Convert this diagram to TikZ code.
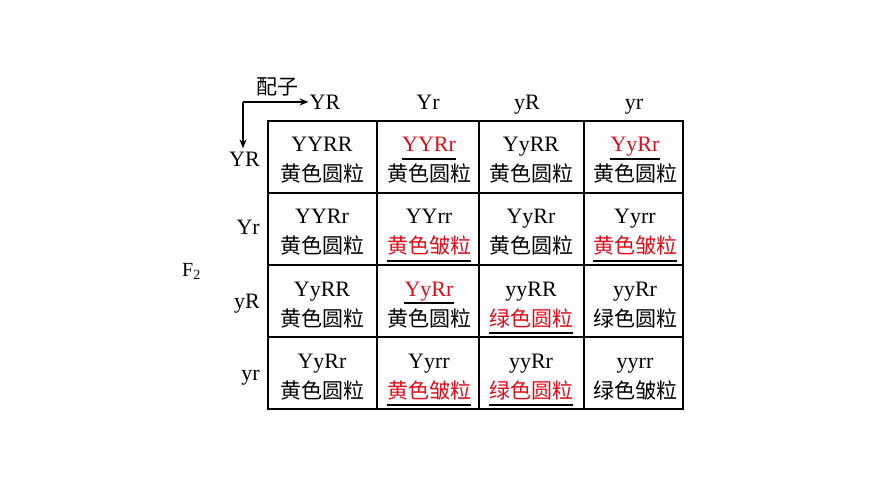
\documentclass[tikz,border=0pt]{standalone}
\usepackage{fontspec}
\setmainfont{Liberation Serif}
\newfontfamily\cjk{Noto Sans CJK SC}
\usetikzlibrary{arrows.meta}
\definecolor{redt}{RGB}{225,10,25}
\tikzset{
  gridl/.style={line width=2pt},
  geno/.style={anchor=base, inner sep=0pt, font=\fontsize{22}{24}\selectfont},
  pheno/.style={anchor=base, inner sep=0pt, font=\cjk\fontsize{21}{24}\selectfont},
  lab/.style={inner sep=0pt, font=\fontsize{22}{24}\selectfont},
  hl/.style={text=redt},
  ul/.style={line width=1.4pt},
  arr/.style={line width=1.4pt, -{Stealth[length=9pt,width=7pt]}}
}
\begin{document}
\begin{tikzpicture}[x=1pt,y=-1pt]
\useasboundingbox (0,0) rectangle (870,489);
% grid
\draw[gridl] (268,121) rectangle (683,409);
\foreach \x in {377,479,584} \draw[gridl] (\x,121) -- (\x,409);
\foreach \y in {193,265,337} \draw[gridl] (268,\y) -- (683,\y);
% headers
\node[lab, anchor=base] (hYR) at (325,110) {YR};
\node[lab, anchor=base] (hYr) at (428,110) {Yr};
\node[lab, anchor=base] (hyR) at (527,110) {yR};
\node[lab, anchor=base] (hyr) at (634,110) {yr};
\node[lab, anchor=base east] (rYR) at (260,167) {YR};
\node[lab, anchor=base east] (rYr) at (260,235) {Yr};
\node[lab, anchor=base east] (ryR) at (260,308) {yR};
\node[lab, anchor=base east] (ryr) at (260,380) {yr};
\node[inner sep=0pt, font=\cjk\fontsize{21}{24}\selectfont] (gam) at (277,87) {配子};
\node[inner sep=0pt, anchor=base west, font=\fontsize{20}{22}\selectfont] (f2) at (182,276) {F\textsubscript{2}};
\coordinate (corner) at (243,102);
\draw[arr] (corner) -- ([xshift=-1pt]corner -| hYR.west);
\draw[arr] (corner) -- ([yshift=4pt]corner |- rYR.north);
% row 1
\node[geno] (g11) at (322,152) {YYRR};
\node[pheno] (p11) at (322,182) {黄色圆粒};
\node[geno,hl] (g12) at (429,152) {YYRr};
\node[pheno] (p12) at (429,182) {黄色圆粒};
\node[geno] (g13) at (531,152) {YyRR};
\node[pheno] (p13) at (531,182) {黄色圆粒};
\node[geno,hl] (g14) at (635,152) {YyRr};
\node[pheno] (p14) at (635,182) {黄色圆粒};
% row 2
\node[geno] (g21) at (322,224) {YYRr};
\node[pheno] (p21) at (322,254) {黄色圆粒};
\node[geno] (g22) at (429,224) {YYrr};
\node[pheno,hl] (p22) at (429,254) {黄色皱粒};
\node[geno] (g23) at (531,224) {YyRr};
\node[pheno] (p23) at (531,254) {黄色圆粒};
\node[geno] (g24) at (635,224) {Yyrr};
\node[pheno,hl] (p24) at (635,254) {黄色皱粒};
% row 3
\node[geno] (g31) at (322,296) {YyRR};
\node[pheno] (p31) at (322,326) {黄色圆粒};
\node[geno,hl] (g32) at (429,296) {YyRr};
\node[pheno] (p32) at (429,326) {黄色圆粒};
\node[geno] (g33) at (531,296) {yyRR};
\node[pheno,hl] (p33) at (531,326) {绿色圆粒};
\node[geno] (g34) at (635,296) {yyRr};
\node[pheno] (p34) at (635,326) {绿色圆粒};
% row 4
\node[geno] (g41) at (322,368) {YyRr};
\node[pheno] (p41) at (322,398) {黄色圆粒};
\node[geno] (g42) at (429,368) {Yyrr};
\node[pheno,hl] (p42) at (429,398) {黄色皱粒};
\node[geno] (g43) at (531,368) {yyRr};
\node[pheno,hl] (p43) at (531,398) {绿色圆粒};
\node[geno] (g44) at (635,368) {yyrr};
\node[pheno] (p44) at (635,398) {绿色皱粒};
% underlines
\foreach \n in {g12,g14,g32}
  \draw[ul] ([yshift=-7pt]\n.base west) -- ([yshift=-7pt]\n.base east);
\foreach \n in {p22,p24,p33,p42,p43}
  \draw[ul] ([yshift=-7pt]\n.base west) -- ([yshift=-7pt]\n.base east);
\end{tikzpicture}
\end{document}
